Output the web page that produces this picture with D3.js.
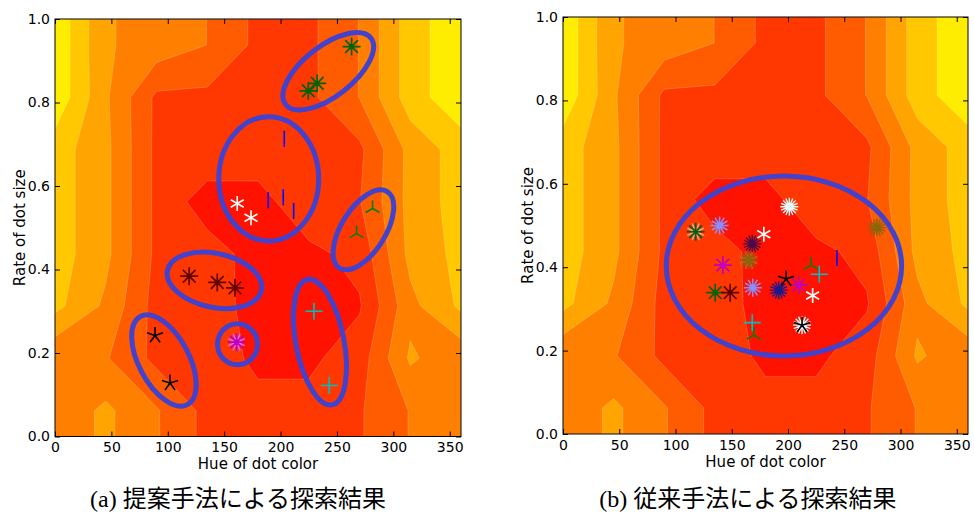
<!DOCTYPE html>
<html>
<head>
<meta charset="utf-8">
<script src="https://cdn.jsdelivr.net/npm/d3@7"></script>
<style>
  body { margin: 0; background: #fff; }
  text { font-family: "DejaVu Sans", sans-serif; }
</style>
</head>
<body>
<svg id="fig" width="974" height="515"></svg>
<script>
// ---- evaluation surface (sampled on a hue x size-rate grid) ----
const hueNodes = [0, 45, 90, 135, 180, 225, 270, 315, 360];
const rateNodes = [0, 0.0625, 0.1875, 0.3125, 0.4375, 0.5625, 0.6875, 0.8125, 0.9375, 1];
// one row per rate node, from rate = 0 up to rate = 1
const scoreRows = [
  [3.3, 4.2, 3.09, 1.69, 1.3, 1.3, 1.9, 3.05, 3.8],
  [3.3, 4.2, 3.09, 1.69, 1.3, 1.3, 1.9, 3.05, 3.8],
  [3.1, 3.09, 1.73, 1.5, 0.8, 0.8, 1.5, 4.15, 3.3],
  [5.3, 3.8, 1.6, 1.5, 0.6, 0.5, 0.9, 3.7, 5.2],
  [5.49, 4.26, 1.76, 1.45, 0.6, 0.75, 1.3, 4.3, 5.3],
  [5.49, 4.26, 1.76, 0.48, 0.6, 1.725, 1.95, 4.34, 5.46],
  [5.49, 4.26, 1.76, 1.79, 1.61, 1.6, 1.78, 4.34, 5.46],
  [6.77, 4.16, 1.79, 1.76, 1.4, 1.77, 3.03, 5.53, 6.74],
  [6.8, 4.1, 3.6, 2.99, 1.75, 1.77, 3.03, 5.53, 6.74],
  [6.8, 4.1, 3.6, 2.99, 1.75, 1.77, 3.03, 5.53, 6.74]
];
const levels = [1, 2, 3, 4, 5, 6];
const bandColors = ["#ff1200", "#ff3700", "#ff5b00", "#ff8000", "#ffa400", "#ffc800", "#ffed00"];

// ---- axis ticks ----
const hueTicks = [0, 50, 100, 150, 200, 250, 300, 350];
const rateTicks = [0, 0.2, 0.4, 0.6, 0.8, 1.0];

// ---- search results: proposed method ----
const proposedSeries = [
  { color: "#006400", marker: "ast8", points: [[263, 0.934], [224.6, 0.828], [232.5, 0.846]] },
  { color: "#0000ff", marker: "vline", points: [[203.3, 0.713], [189.1, 0.566], [202.4, 0.573], [211.6, 0.540]] },
  { color: "#ffffff", marker: "ast6", points: [[161.6, 0.558], [173.8, 0.524]] },
  { color: "#008000", marker: "tri", points: [[281.6, 0.546], [267.4, 0.486]] },
  { color: "#600000", marker: "ast8", points: [[119, 0.384], [143.9, 0.369], [159.6, 0.356]] },
  { color: "#ee66ee", marker: "ast8r", points: [[161, 0.226]] },
  { color: "#bf00bf", marker: "ast8", points: [[161, 0.226]] },
  { color: "#000000", marker: "ast5", points: [[88.7, 0.242], [102, 0.128]] },
  { color: "#00bfbf", marker: "plus", points: [[229.6, 0.300], [243.2, 0.122]] }
];
// groups circled in the proposed-method result
const proposedGroups = [
  { hue: 242.3, rate: 0.875, rHue: 47.9, rRate: 0.060, tilt: -38 },
  { hue: 189.5, rate: 0.617, rHue: 44.3, rRate: 0.1487, tilt: 0 },
  { hue: 273.5, rate: 0.495, rHue: 39.9, rRate: 0.0528, tilt: -58 },
  { hue: 141.4, rate: 0.374, rHue: 42.6, rRate: 0.0647, tilt: 12 },
  { hue: 161.8, rate: 0.221, rHue: 17.7, rRate: 0.0492, tilt: 0 },
  { hue: 96.6, rate: 0.182, rHue: 44.3, rRate: 0.060, tilt: 62 },
  { hue: 234.9, rate: 0.226, rHue: 56.7, rRate: 0.0576, tilt: 79 }
];

// ---- search results: conventional method ----
const conventionalSeries = [
  { color: "#ff9a9a", marker: "ast8r", points: [[117.9, 0.485], [165.2, 0.417]] },
  { color: "#006400", marker: "ast8", points: [[117.9, 0.485], [135.3, 0.339]] },
  { color: "#8c8cff", marker: "ast12", points: [[139.2, 0.500], [168.7, 0.351]] },
  { color: "#4a0a4a", marker: "ast16", points: [[168.2, 0.456]] },
  { color: "#ffffff", marker: "ast6", points: [[178.5, 0.479], [221.9, 0.332]] },
  { color: "#e0ffff", marker: "ast16", points: [[201.2, 0.545], [212.5, 0.261]] },
  { color: "#8b6508", marker: "ast16", points: [[165.2, 0.417], [279, 0.495]] },
  { color: "#bf00bf", marker: "ast8", points: [[142.1, 0.405], [209.5, 0.357]] },
  { color: "#0000ff", marker: "vline", points: [[243.5, 0.422]] },
  { color: "#008000", marker: "tri", points: [[220.5, 0.405], [169.6, 0.237]] },
  { color: "#00bfbf", marker: "plus", points: [[227.8, 0.383], [168.2, 0.267]] },
  { color: "#000000", marker: "ast5", points: [[198.3, 0.372], [212.5, 0.261]] },
  { color: "#1a1a8c", marker: "ast16", points: [[191.8, 0.345]] },
  { color: "#600000", marker: "ast8", points: [[148.6, 0.339]] }
];
const conventionalGroups = [
  { hue: 196.4, rate: 0.403, rHue: 104.6, rRate: 0.2158, tilt: 0 }
];

// ---- drawing ----
const svg = d3.select("#fig");

const panels = [
  { key: "a", left: 55, right: 461, top: 19, bottom: 436.5, label: "(a)", caption: "提案手法による探索結果",
    captionX: 238, series: proposedSeries, groups: proposedGroups },
  { key: "b", left: 563, right: 968, top: 17, bottom: 434, label: "(b)", caption: "従来手法による探索結果",
    captionX: 748, series: conventionalSeries, groups: conventionalGroups }
];

const nx = hueNodes.length, ny = rateNodes.length;
const gridValues = scoreRows.flat();
const bands = d3.contours().size([nx, ny]).thresholds(levels)(gridValues);

// contour coordinates: sample i sits at i + 0.5; the outer edge is clamped to the end nodes
function gridToData(c, nodes) {
  const u = Math.max(0, Math.min(nodes.length - 1, c - 0.5));
  const i = Math.min(nodes.length - 2, Math.floor(u));
  const f = u - i;
  return nodes[i] + f * (nodes[i + 1] - nodes[i]);
}

function markerPath(kind, r) {
  const arms = (n, start) => {
    let d = "";
    for (let k = 0; k < n; k++) {
      const a = start + k * 2 * Math.PI / n;
      d += `M0,0L${(r * Math.cos(a)).toFixed(2)},${(r * Math.sin(a)).toFixed(2)}`;
    }
    return d;
  };
  switch (kind) {
    case "ast5": return arms(5, -Math.PI / 2);
    case "ast6": return arms(6, -Math.PI / 2);
    case "ast8": return arms(8, 0);
    case "ast8r": return arms(8, Math.PI / 8);
    case "ast12": return arms(12, 0);
    case "ast16": return arms(16, 0);
    case "tri": return arms(3, -Math.PI / 2);
    case "plus": return `M${-r},0H${r}M0,${-r}V${r}`;
    case "vline": return `M0,${-r}V${r}`;
  }
}
const markerSize = { ast5: 8.5, ast6: 7.5, ast8: 9, ast8r: 9, ast12: 9, ast16: 9, tri: 8, plus: 8.5, vline: 8 };
const markerWidth = { ast5: 1.6, ast6: 1.6, ast8: 1.7, ast8r: 1.5, ast12: 1.5, ast16: 1.4, tri: 1.6, plus: 1.6, vline: 1.6 };

panels.forEach(p => {
  const x = d3.scaleLinear().domain([0, 360]).range([p.left, p.right]);
  const y = d3.scaleLinear().domain([0, 1]).range([p.bottom, p.top]);
  const g = svg.append("g");

  const clipId = "clip-" + p.key;
  g.append("clipPath").attr("id", clipId)
    .append("rect").attr("x", p.left).attr("y", p.top)
    .attr("width", p.right - p.left).attr("height", p.bottom - p.top);

  const plot = g.append("g").attr("clip-path", `url(#${clipId})`);
  const proj = d3.geoTransform({
    point(cx, cy) { this.stream.point(x(gridToData(cx, hueNodes)), y(gridToData(cy, rateNodes))); }
  });
  const path = d3.geoPath(proj);

  plot.append("rect").attr("x", p.left).attr("y", p.top)
    .attr("width", p.right - p.left).attr("height", p.bottom - p.top)
    .attr("fill", bandColors[0]);
  plot.selectAll("path.band").data(bands).join("path")
    .attr("class", "band")
    .attr("d", path)
    .attr("fill", (d, i) => bandColors[i + 1])
    .attr("stroke", "rgba(255,255,255,0.28)")
    .attr("stroke-width", 0.7);

  // group outlines
  plot.selectAll("ellipse").data(p.groups).join("ellipse")
    .attr("transform", d => `translate(${x(d.hue)},${y(d.rate)}) rotate(${d.tilt})`)
    .attr("rx", d => x(d.rHue) - x(0))
    .attr("ry", d => y(0) - y(d.rRate))
    .attr("fill", "none")
    .attr("stroke", "#4242cc")
    .attr("stroke-width", 5);

  // markers
  p.series.forEach(s => {
    plot.append("g").selectAll("path").data(s.points).join("path")
      .attr("transform", d => `translate(${x(d[0])},${y(d[1])})`)
      .attr("d", markerPath(s.marker, markerSize[s.marker]))
      .attr("fill", "none")
      .attr("stroke", s.color)
      .attr("stroke-width", markerWidth[s.marker])
      .attr("stroke-linecap", "butt");
  });

  // axes with inward ticks on all four sides
  const fmtRate = d3.format(".1f");
  const axB = g.append("g").attr("transform", `translate(0,${p.bottom})`)
    .call(d3.axisBottom(x).tickValues(hueTicks).tickSize(-5).tickSizeOuter(0).tickPadding(6));
  const axT = g.append("g").attr("transform", `translate(0,${p.top})`)
    .call(d3.axisTop(x).tickValues(hueTicks).tickSize(-5).tickSizeOuter(0).tickFormat(""));
  const axL = g.append("g").attr("transform", `translate(${p.left},0)`)
    .call(d3.axisLeft(y).tickValues(rateTicks).tickSize(-5).tickSizeOuter(0).tickPadding(5).tickFormat(fmtRate));
  const axR = g.append("g").attr("transform", `translate(${p.right},0)`)
    .call(d3.axisRight(y).tickValues(rateTicks).tickSize(-5).tickSizeOuter(0).tickFormat(""));
  [axB, axT, axL, axR].forEach(a => {
    a.select(".domain").remove();
    a.selectAll("line").attr("stroke", "#000").attr("stroke-width", 1);
    a.selectAll("text").attr("font-size", 14).attr("fill", "#000")
      .attr("font-family", "DejaVu Sans, sans-serif");
  });

  g.append("rect").attr("x", p.left).attr("y", p.top)
    .attr("width", p.right - p.left).attr("height", p.bottom - p.top)
    .attr("fill", "none").attr("stroke", "#000").attr("stroke-width", 1);

  const cx = (p.left + p.right) / 2;
  g.append("text").attr("x", cx).attr("y", p.bottom + 32.5)
    .attr("text-anchor", "middle").attr("font-size", 15).text("Hue of dot color");
  g.append("text")
    .attr("transform", `translate(${p.left - 30},${(p.top + p.bottom) / 2}) rotate(-90)`)
    .attr("text-anchor", "middle").attr("font-size", 15).text("Rate of dot size");

  const cap = g.append("text").attr("x", p.captionX).attr("y", 507).attr("text-anchor", "middle")
    .attr("font-size", 24);
  cap.append("tspan").attr("font-family", "Liberation Serif, serif").text(p.label + " ");
  cap.append("tspan").attr("font-family", "Noto Sans CJK JP, sans-serif").text(p.caption);
});
</script>
</body>
</html>
